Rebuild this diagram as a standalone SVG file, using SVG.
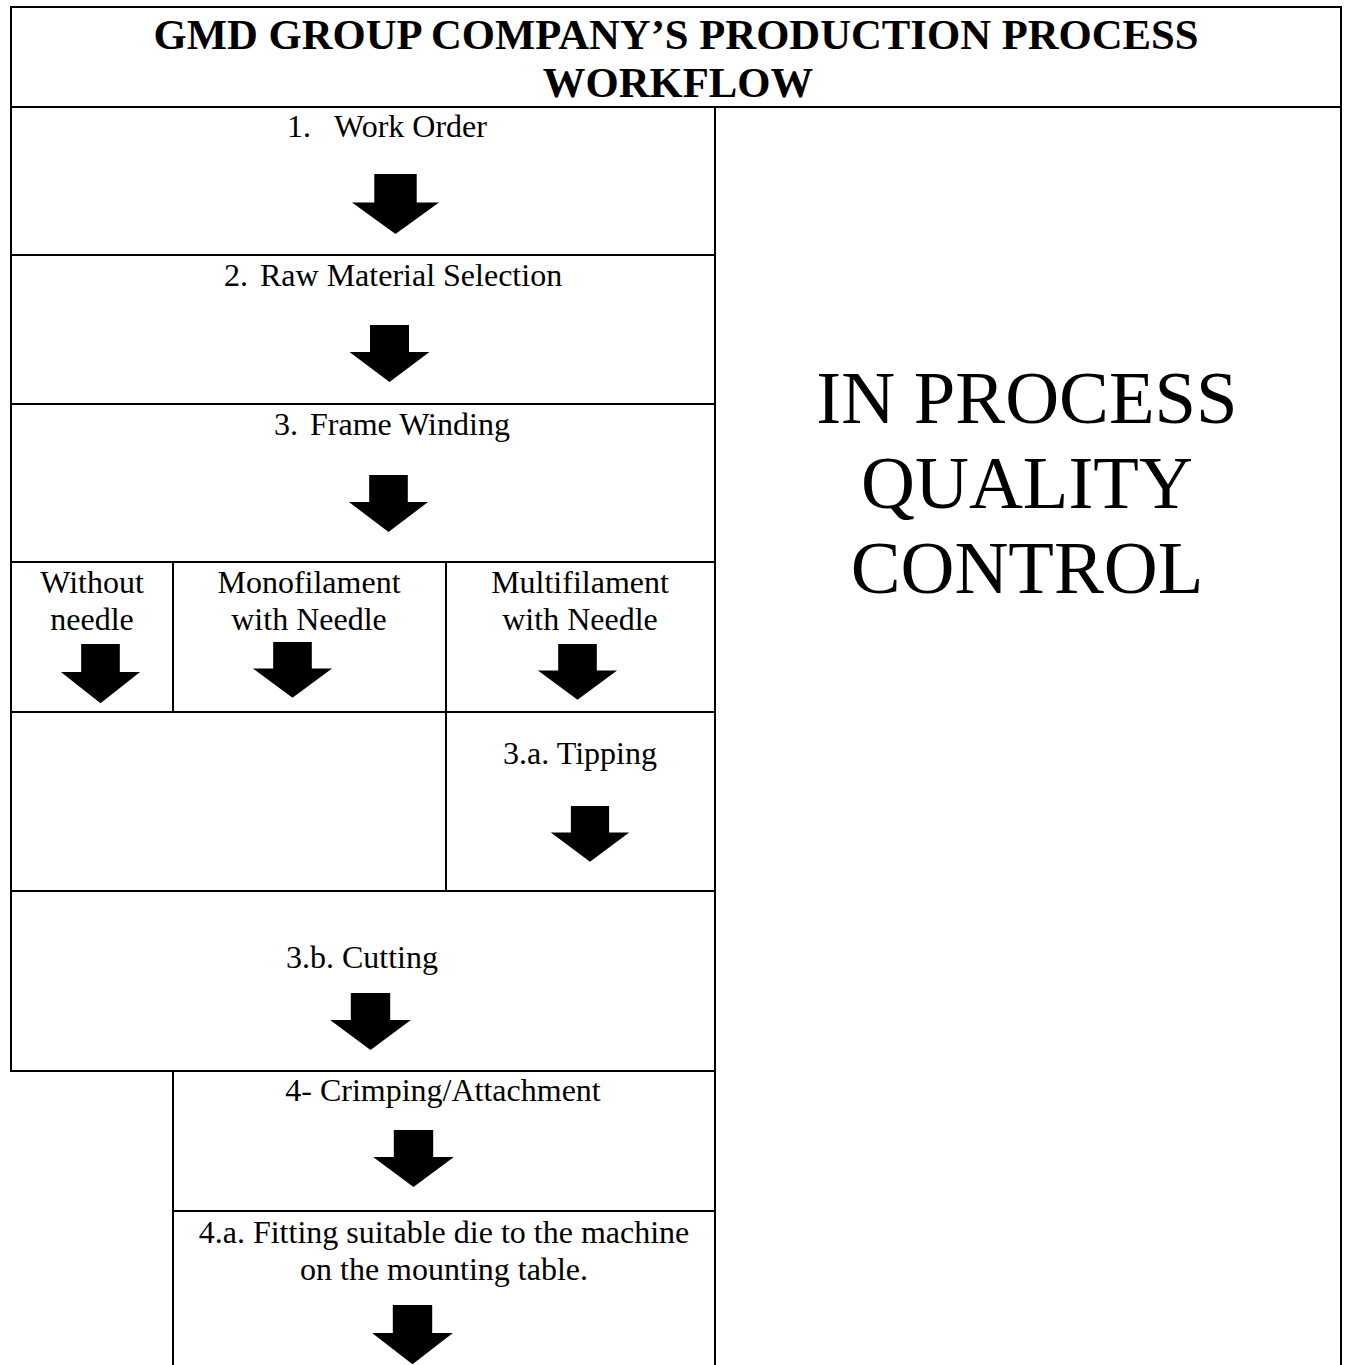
<svg xmlns="http://www.w3.org/2000/svg" xmlns:xlink="http://www.w3.org/1999/xlink" width="1349" height="1365" viewBox="0 0 1349 1365">
<style>
  .ln { stroke: #000; stroke-width: 2; fill: none; }
  .t { font-family: "Liberation Serif", "Times New Roman", serif; font-size: 32px; fill: #000; }
  .c { text-anchor: middle; }
  .title { font-family: "Liberation Serif", "Times New Roman", serif; font-size: 42.7px; font-weight: bold; text-anchor: middle; fill: #000; }
  .big { font-family: "Liberation Serif", "Times New Roman", serif; font-size: 74.7px; text-anchor: middle; fill: #000; }
  .arr { fill: #000; }
</style>
<defs>
  <path id="arrow" d="M-19.5,0 H19.5 V27 H40 L0,57 L-40,27 H-19.5 Z"/>
</defs>
<rect width="1349" height="1365" fill="#fff"/>

<g id="grid">
  <line class="ln" x1="11" y1="7" x2="1341" y2="7"/>
  <line class="ln" x1="11" y1="107" x2="1341" y2="107"/>
  <line class="ln" x1="11" y1="6" x2="11" y2="1072"/>
  <line class="ln" x1="1341" y1="6" x2="1341" y2="1365"/>
  <line class="ln" x1="715" y1="107" x2="715" y2="1365"/>
  <line class="ln" x1="11" y1="255" x2="715" y2="255"/>
  <line class="ln" x1="11" y1="404" x2="715" y2="404"/>
  <line class="ln" x1="11" y1="562" x2="715" y2="562"/>
  <line class="ln" x1="11" y1="712" x2="715" y2="712"/>
  <line class="ln" x1="11" y1="891" x2="715" y2="891"/>
  <line class="ln" x1="11" y1="1071" x2="715" y2="1071"/>
  <line class="ln" x1="173" y1="1211" x2="715" y2="1211"/>
  <line class="ln" x1="173" y1="562" x2="173" y2="712"/>
  <line class="ln" x1="446" y1="562" x2="446" y2="891"/>
  <line class="ln" x1="173" y1="1071" x2="173" y2="1365"/>
</g>

<g id="title">
  <text class="title" x="676" y="49">GMD GROUP COMPANY’S PRODUCTION PROCESS</text>
  <text class="title" x="678" y="97">WORKFLOW</text>
</g>

<g id="node-work-order">
  <text class="t" y="137"><tspan x="287">1.</tspan><tspan x="334">Work Order</tspan></text>
</g>
<g id="node-raw-material">
  <text class="t" y="286"><tspan x="224">2.</tspan><tspan x="260">Raw Material Selection</tspan></text>
</g>
<g id="node-frame-winding">
  <text class="t" y="435"><tspan x="274">3.</tspan><tspan x="310">Frame Winding</tspan></text>
</g>
<g id="node-without-needle">
  <text class="t c" x="92" y="593">Without</text>
  <text class="t c" x="92" y="630">needle</text>
</g>
<g id="node-monofilament">
  <text class="t c" x="309" y="593">Monofilament</text>
  <text class="t c" x="309" y="630">with Needle</text>
</g>
<g id="node-multifilament">
  <text class="t c" x="580" y="593">Multifilament</text>
  <text class="t c" x="580" y="630">with Needle</text>
</g>
<g id="node-tipping">
  <text class="t c" x="580" y="764">3.a. Tipping</text>
</g>
<g id="node-cutting">
  <text class="t c" x="362" y="968">3.b. Cutting</text>
</g>
<g id="node-crimping">
  <text class="t c" x="443" y="1101">4- Crimping/Attachment</text>
</g>
<g id="node-fitting-die">
  <text class="t c" x="444" y="1243">4.a. Fitting suitable die to the machine</text>
  <text class="t c" x="444" y="1280">on the mounting table.</text>
</g>
<g id="node-quality-control">
  <text class="big" x="1027" y="423">IN PROCESS</text>
  <text class="big" x="1027" y="508">QUALITY</text>
  <text class="big" x="1027" y="593">CONTROL</text>
</g>

<g id="connectors" class="arr">
  <use xlink:href="#arrow" transform="translate(395.5,174) scale(1.0875,1.053)"/>
  <use xlink:href="#arrow" transform="translate(389.5,325) scale(1.0,1.0)"/>
  <use xlink:href="#arrow" transform="translate(388.5,475) scale(0.99,1.0)"/>
  <use xlink:href="#arrow" transform="translate(100.5,644) scale(0.99,1.04)"/>
  <use xlink:href="#arrow" transform="translate(292.5,642) scale(0.99,0.98)"/>
  <use xlink:href="#arrow" transform="translate(577.5,644) scale(0.99,0.98)"/>
  <use xlink:href="#arrow" transform="translate(590,806) scale(0.98,0.98)"/>
  <use xlink:href="#arrow" transform="translate(370.5,993) scale(1.01,1.0)"/>
  <use xlink:href="#arrow" transform="translate(413.5,1130) scale(1.01,1.0)"/>
  <use xlink:href="#arrow" transform="translate(412.5,1305) scale(1.01,1.04)"/>
</g>
</svg>
